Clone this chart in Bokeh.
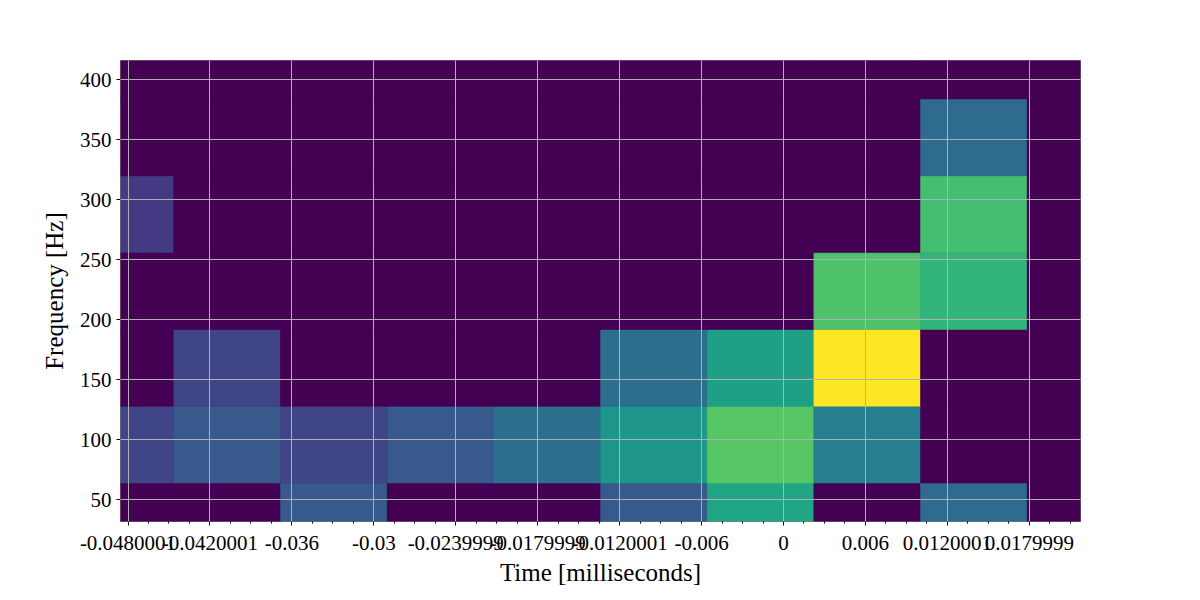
import numpy as np
from bokeh.plotting import figure
from bokeh.models import ColumnDataSource, Range1d, FixedTicker, LinearColorMapper
from bokeh.palettes import Viridis256
from bokeh.embed import file_html
from bokeh.resources import INLINE

# Tile centres (time in "milliseconds" axis units, frequency in Hz)
times = [-0.04855, -0.04074, -0.03293, -0.02511, -0.01730,
         -0.00949, -0.00168, 0.00613, 0.01394, 0.02175]
freqs = [32, 96, 160, 224, 288, 352, 416]
tile_dt = 0.0078125
tile_df = 64

# normalised energy per tile; rows = freqs, columns = times
energy = [
    [0.00, 0.00, 0.28, 0.00, 0.00, 0.28, 0.59, 0.00, 0.35, 0.00],  # 32 Hz
    [0.21, 0.28, 0.21, 0.28, 0.37, 0.53, 0.74, 0.43, 0.00, 0.00],  # 96 Hz
    [0.00, 0.21, 0.00, 0.00, 0.00, 0.36, 0.57, 1.00, 0.00, 0.00],  # 160 Hz
    [0.00, 0.00, 0.00, 0.00, 0.00, 0.00, 0.00, 0.72, 0.66, 0.00],  # 224 Hz
    [0.17, 0.00, 0.00, 0.00, 0.00, 0.00, 0.00, 0.00, 0.70, 0.00],  # 288 Hz
    [0.00, 0.00, 0.00, 0.00, 0.00, 0.00, 0.00, 0.00, 0.35, 0.00],  # 352 Hz
    [0.00, 0.00, 0.00, 0.00, 0.00, 0.00, 0.00, 0.00, 0.00, 0.00],  # 416 Hz
]

x_ticks = [-0.048, -0.042, -0.036, -0.030, -0.024, -0.018, -0.012, -0.006, 0.0, 0.006, 0.012, 0.018]
x_tick_labels = ["-0.0480001", "-0.0420001", "-0.036", "-0.03", "-0.0239999", "-0.0179999",
                 "-0.0120001", "-0.006", "0", "0.006", "0.0120001", "0.0179999"]
y_ticks = [50, 100, 150, 200, 250, 300, 350, 400]

xs, ys, vs = [], [], []
for i, f in enumerate(freqs):
    for j, t in enumerate(times):
        xs.append(t)
        ys.append(f)
        vs.append(energy[i][j])
src = ColumnDataSource(dict(x=xs, y=ys, v=vs))

mapper = LinearColorMapper(palette=Viridis256, low=0.0, high=1.0)

p = figure(frame_width=960, frame_height=461, output_backend="svg", toolbar_location=None,
           x_range=Range1d(times[0], times[-1]), y_range=Range1d(freqs[0], freqs[-1]),
           min_border_left=120, min_border_right=120, min_border_top=60, min_border_bottom=79)
p.rect(x="x", y="y", width=tile_dt, height=tile_df, source=src,
       fill_color={"field": "v", "transform": mapper},
       line_color={"field": "v", "transform": mapper}, line_width=0.5)

minor = list(np.round(np.arange(-0.048, 0.0216, 0.0015), 6))
p.xaxis.ticker = FixedTicker(ticks=x_ticks, minor_ticks=minor)
p.xaxis.major_label_overrides = {t: l for t, l in zip(x_ticks, x_tick_labels)}
p.yaxis.ticker = FixedTicker(ticks=y_ticks)

font = "Liberation Serif"
for ax in (p.xaxis[0], p.yaxis[0]):
    ax.major_label_text_font = font
    ax.major_label_text_font_size = "21px"
    ax.major_label_text_color = "black"
    ax.axis_label_text_font = font
    ax.axis_label_text_font_size = "25px"
    ax.axis_label_text_font_style = "normal"
    ax.axis_label_text_color = "black"
    ax.axis_line_color = None
    ax.major_tick_line_color = "black"
    ax.minor_tick_line_color = "black"
    ax.major_tick_in = 0
    ax.major_tick_out = 4
    ax.minor_tick_in = 0
    ax.minor_tick_out = 2

p.xaxis.major_label_standoff = 10
p.yaxis.major_label_standoff = 5
p.xaxis.axis_label = "Time [milliseconds]"
p.yaxis.axis_label = "Frequency [Hz]"
p.xaxis.axis_label_standoff = 6
p.yaxis.axis_label_standoff = 9

p.grid.grid_line_color = "#b0b0b0"
p.grid.grid_line_width = 1
p.grid.level = "overlay"
p.outline_line_color = "#808080"
p.outline_line_width = 1
p.background_fill_color = "#440154"
p.border_fill_color = "white"

open("out.html", "w").write(file_html(p, INLINE))
